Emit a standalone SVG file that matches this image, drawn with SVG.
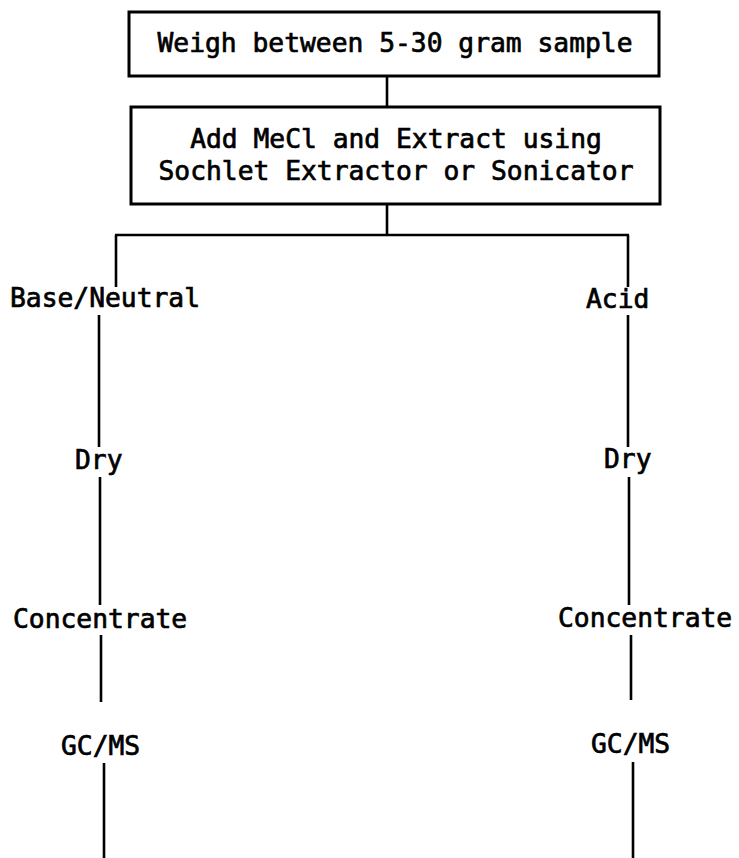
<svg xmlns="http://www.w3.org/2000/svg" width="739" height="858" viewBox="0 0 739 858">
<style>
.bg{fill:#ffffff}
.box{fill:none;stroke:#000;stroke-width:3}
.ln{stroke:#000;stroke-width:2.6;fill:none}
text{font-family:"DejaVu Sans Mono","Liberation Mono",monospace;font-size:26.3px;fill:#000;stroke:#000;stroke-width:0.7}
.c{text-anchor:middle}
</style>
<rect class="bg" x="0" y="0" width="739" height="858"/>
<g id="connectors">
<line class="ln" x1="387" y1="76" x2="387" y2="107"/>
<line class="ln" x1="387" y1="204" x2="387" y2="235"/>
<line class="ln" x1="115" y1="235" x2="629" y2="235"/>
<line class="ln" x1="116" y1="235" x2="116" y2="287"/>
<line class="ln" x1="99" y1="315" x2="99" y2="447"/>
<line class="ln" x1="100" y1="477" x2="100" y2="605"/>
<line class="ln" x1="101" y1="635" x2="101" y2="702"/>
<line class="ln" x1="104" y1="763" x2="104" y2="858"/>
<line class="ln" x1="628" y1="235" x2="628" y2="287"/>
<line class="ln" x1="628" y1="315" x2="628" y2="447"/>
<line class="ln" x1="629" y1="477" x2="629" y2="605"/>
<line class="ln" x1="631" y1="635" x2="631" y2="700"/>
<line class="ln" x1="633" y1="762" x2="633" y2="858"/>
</g>
<g id="weigh">
<rect class="box" x="129" y="12" width="530" height="64"/>
<text class="c" x="395" y="52">Weigh between 5-30 gram sample</text>
</g>
<g id="extract">
<rect class="box" x="131" y="107" width="529" height="97"/>
<text class="c" x="396" y="148">Add MeCl and Extract using</text>
<text class="c" x="396" y="180">Sochlet Extractor or Sonicator</text>
</g>
<g id="base-neutral"><text x="10" y="307">Base/Neutral</text></g>
<g id="acid"><text x="586" y="308">Acid</text></g>
<g id="dry-left"><text x="75" y="469">Dry</text></g>
<g id="dry-right"><text x="604" y="468">Dry</text></g>
<g id="concentrate-left"><text x="13" y="628">Concentrate</text></g>
<g id="concentrate-right"><text x="558" y="627">Concentrate</text></g>
<g id="gcms-left"><text x="61" y="755">GC/MS</text></g>
<g id="gcms-right"><text x="591" y="753">GC/MS</text></g>
</svg>
